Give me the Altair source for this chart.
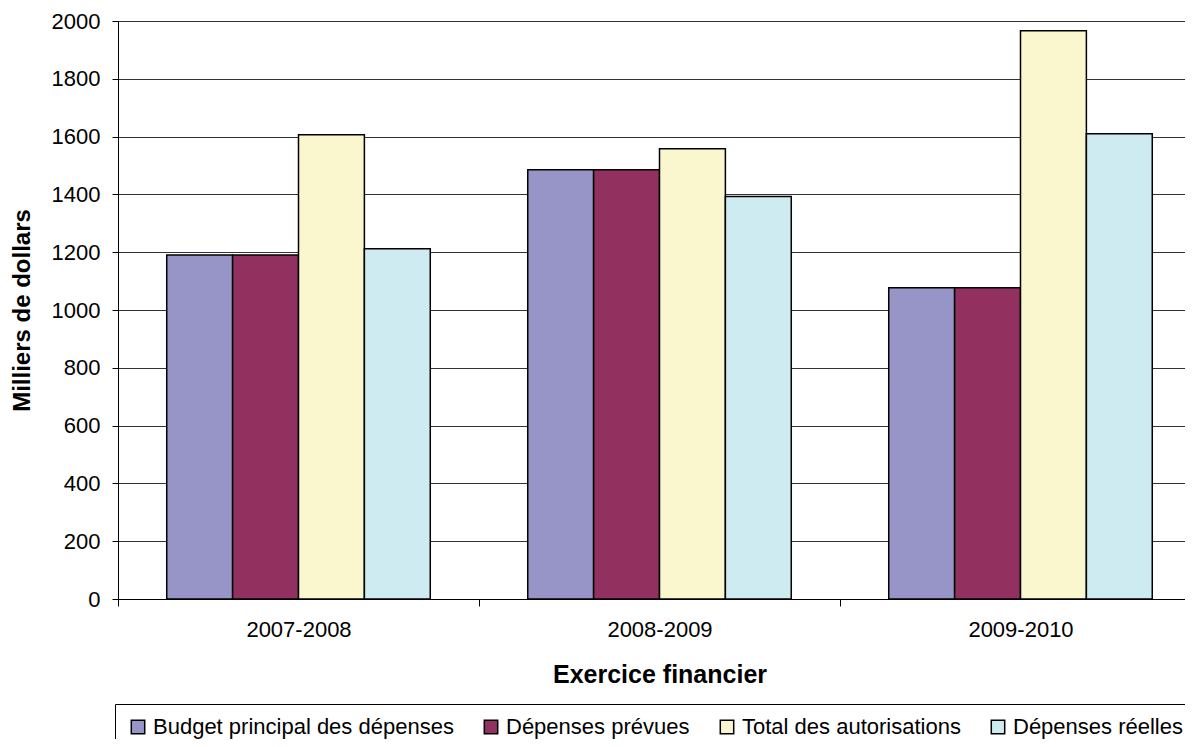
import altair as alt
import pandas as pd

years = ["2007-2008", "2008-2009", "2009-2010"]
series = ["Budget principal des dépenses", "Dépenses prévues",
          "Total des autorisations", "Dépenses réelles"]
budget_principal = [1190, 1485, 1077]
depenses_prevues = [1190, 1485, 1077]
total_autorisations = [1606, 1558, 1966]
depenses_reelles = [1212, 1393, 1610]
colors = ["#9794C7", "#923160", "#FAF7CE", "#CDEBF0"]

rows = []
for s, vals in zip(series, [budget_principal, depenses_prevues,
                            total_autorisations, depenses_reelles]):
    for y, v in zip(years, vals):
        rows.append({"Exercice": y, "Série": s, "Valeur": v})
df = pd.DataFrame(rows)

FONT = "Liberation Sans"
FULL_W = 1083   # scale extent (plot continues past the window edge)
VIS_W = 1067
STEP = FULL_W / 3

chart = alt.Chart(df).mark_bar(stroke="black", strokeWidth=1.5).encode(
    x=alt.X("Exercice:N", sort=years,
            scale=alt.Scale(paddingInner=0.27, paddingOuter=0.135,
                            range=[0, FULL_W]),
            axis=alt.Axis(title="Exercice financier", labelAngle=0,
                          tickOffset=-STEP / 2, labelOffset=STEP / 2,
                          tickSize=7, tickColor="black",
                          domainColor="black", labelFontSize=22,
                          labelPadding=13, titleFontSize=25,
                          titleFontWeight="bold",
                          titleX=FULL_W / 2, titleY=75,
                          titleAlign="center", titleBaseline="middle",
                          labelColor="black", titleColor="black",
                          labelFont=FONT, titleFont=FONT)),
    xOffset=alt.XOffset("Série:N", sort=series),
    y=alt.Y("Valeur:Q",
            scale=alt.Scale(domain=[0, 2000], nice=False),
            axis=alt.Axis(title="Milliers de dollars", values=list(range(0, 2001, 200)),
                          format="d",
                          tickSize=6, tickColor="black", domainColor="black",
                          gridColor="#333333", gridWidth=1,
                          labelFontSize=22, labelPadding=12,
                          titleFontSize=24, titleFontWeight="bold",
                          titleX=-96, titleY=289, titleAlign="center",
                          titleBaseline="middle", titleAngle=-90,
                          labelColor="black", titleColor="black",
                          labelFont=FONT, titleFont=FONT)),
    color=alt.Color("Série:N", sort=series,
                    scale=alt.Scale(domain=series, range=colors),
                    legend=alt.Legend(title=None, orient="none",
                                      legendX=-3, legendY=683,
                                      direction="horizontal", columns=4,
                                      symbolType="square", symbolSize=180,
                                      symbolStrokeColor="black",
                                      symbolStrokeWidth=1.5,
                                      symbolOpacity=1,
                                      labelFontSize=22, labelFont=FONT,
                                      labelColor="black", labelOffset=4,
                                      labelLimit=0,
                                      columnPadding=26, padding=12,
                                      strokeColor="black")),
).properties(
    width=VIS_W, height=578,
    autosize=alt.AutoSizeParams(type="none"),
    padding={"left": 110, "top": 13, "right": 0, "bottom": 140},
).configure_view(stroke=None).configure(background="white")

chart.save("out.html", embed_options={"renderer": "svg", "actions": False})
